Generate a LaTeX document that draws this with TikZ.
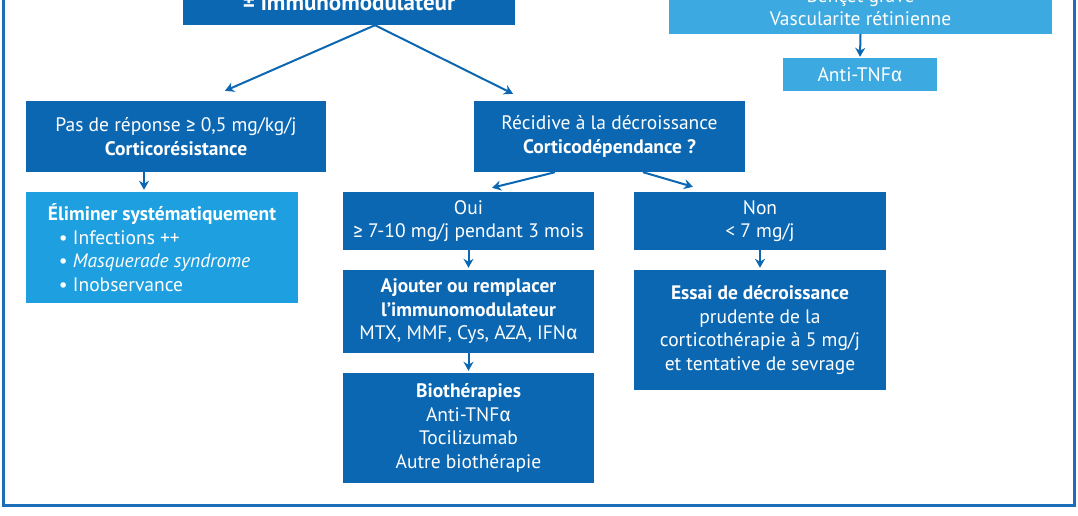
\documentclass[tikz,border=0pt]{standalone}
\usepackage{fontspec}
\setmainfont{PT Sans}
\newfontfamily\symfont{Fira Sans}
\usetikzlibrary{arrows.meta}
\definecolor{darkblue}{HTML}{0B67B2}
\definecolor{midblue}{HTML}{1E9FDF}
\definecolor{lightblue}{HTML}{3CA9E1}
\definecolor{framecol}{HTML}{1C6EBA}
\newcommand{\gesym}{{\symfont ≥}}
\newcommand{\alphasym}{{\symfont α}}
\begin{document}
\begin{tikzpicture}[x=1pt,y=-1pt,
  box/.style={rectangle,fill=darkblue,text=white,inner sep=0pt,align=center,font=\fontsize{19.5}{23.5}\selectfont},
  arr/.style={draw=darkblue,line width=2pt,-{Stealth[length=9pt,width=10pt]}}]
\useasboundingbox (0,0) rectangle (1078,516);
\draw[framecol,line width=3pt] (3,-30) -- (3,505) -- (1074,505) -- (1074,-30);
\node[box,font=\fontsize{23}{27}\selectfont,minimum width=332pt,text height=40pt,text depth=5pt,inner ysep=9pt,anchor=base] (top) at (349,11) {\bfseries ± immunomodulateur};
\node[box,fill=lightblue,minimum width=383pt,text depth=4pt,inner ysep=4pt,anchor=south] (behcet) at (860.5,34) {Behçet grave\\Vascularite rétinienne};
\node[box,fill=lightblue,minimum width=154pt,minimum height=33pt] (anti) at (860,74.5) {Anti-TNF\alphasym};
\node[box,minimum width=300pt,minimum height=71pt] (pas) at (176,136.5) {Pas de réponse \gesym{} 0,5 mg/kg/j\\\textbf{Corticorésistance}};
\node[box,minimum width=271pt,minimum height=71pt] (rec) at (609.5,136.5) {Récidive à la décroissance\\\textbf{Corticodépendance ?}};
\node[box,fill=midblue,align=left,minimum width=272pt,minimum height=111pt] (elim) at (162,247.5) {\textbf{Éliminer systématiquement}\\\hspace*{11pt}• Infections ++\\\hspace*{11pt}• \textit{Masquerade syndrome}\\\hspace*{11pt}• Inobservance};
\node[box,minimum width=251pt,minimum height=58pt] (oui) at (468.5,221) {Oui\\\gesym{} 7-10 mg/j pendant 3 mois};
\node[box,minimum width=252pt,minimum height=58pt] (non) at (760,221) {Non\\< 7 mg/j};
\node[box,minimum width=251pt,minimum height=83pt] (ajout) at (468.5,311.5) {\textbf{Ajouter ou remplacer}\\\textbf{l'immunomodulateur}\\MTX, MMF, Cys, AZA, IFN\alphasym};
\node[box,minimum width=251pt,minimum height=110pt] (bio) at (468.5,428) {\textbf{Biothérapies}\\Anti-TNF\alphasym\\Tocilizumab\\Autre biothérapie};
\node[box,minimum width=252pt,minimum height=120pt] (essai) at (760,330) {\textbf{Essai de décroissance}\\prudente de la\\corticothérapie à 5 mg/j\\et tentative de sevrage};
\draw[arr] ([xshift=26pt]top.south) -- ([xshift=49pt,yshift=10pt]pas.north);
\draw[arr] ([xshift=26pt]top.south) -- ([xshift=-96.5pt,yshift=7pt]rec.north);
\draw[arr] (behcet.south) -- ([yshift=1pt]anti.north);
\draw[arr] ([xshift=-32pt]pas.south) -- ([xshift=-18pt,yshift=2pt]elim.north);
\draw[arr] ([xshift=-54.5pt]rec.south) -- ([xshift=23.5pt,yshift=4pt]oui.north);
\draw[arr] ([xshift=33.5pt]rec.south) -- ([xshift=-67pt,yshift=5pt]non.north);
\draw[arr] (oui.south) -- ([yshift=2pt]ajout.north);
\draw[arr] (ajout.south) -- ([yshift=2pt]bio.north);
\draw[arr] (non.south) -- ([yshift=2pt]essai.north);
\end{tikzpicture}
\end{document}
